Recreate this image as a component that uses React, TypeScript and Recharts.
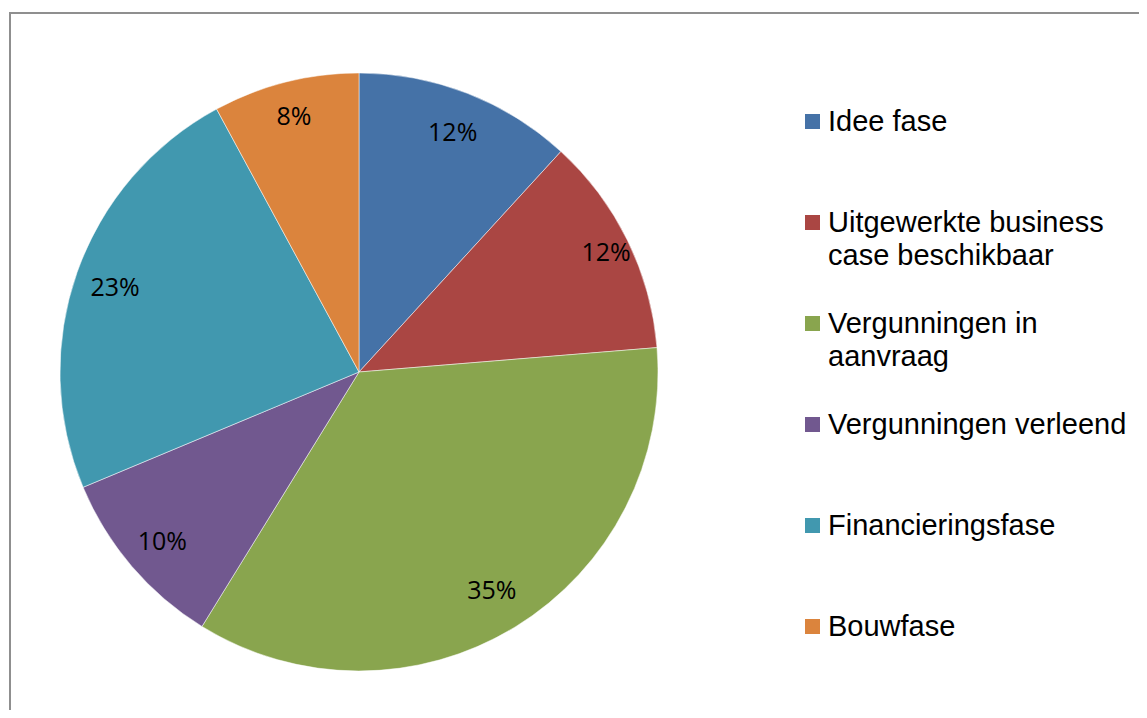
import { PieChart, Pie, Cell, Legend } from "recharts";

const categories = [
  "Idee fase",
  "Uitgewerkte business case beschikbaar",
  "Vergunningen in aanvraag",
  "Vergunningen verleend",
  "Financieringsfase",
  "Bouwfase",
];
const shares = [11.8, 11.9, 35.1, 9.9, 23.4, 7.9];
const colors = ["#4572A7", "#AA4643", "#89A54E", "#71588F", "#4198AF", "#DB843D"];
// label distance as a fraction of the radius (Excel "best fit" puts them unevenly)
const labelRadius = [0.865, 0.92, 0.85, 0.865, 0.865, 0.885];

const data = categories.map((name, i) => ({ name, value: shares[i] }));

const RADIAN = Math.PI / 180;

const renderLabel = (props: any) => {
  const { cx, cy, midAngle, outerRadius, percent, index } = props;
  const r = outerRadius * labelRadius[index];
  const x = cx + r * Math.cos(-midAngle * RADIAN);
  const y = cy + r * Math.sin(-midAngle * RADIAN);
  return (
    <text x={x} y={y} textAnchor="middle" dominantBaseline="central" fill="#000" fontSize={25} fontFamily="'Open Sans', sans-serif">
      {`${Math.round(percent * 100)}%`}
    </text>
  );
};

const renderLegend = () => (
  <div style={{ fontFamily: "'Liberation Sans', Arimo, Arial, sans-serif", fontSize: 29, lineHeight: "33px", color: "#000" }}>
    {categories.map((name, i) => (
      <div key={name} style={{ display: "flex", alignItems: "flex-start", height: 101 }}>
        <span style={{ width: 15, height: 15, background: colors[i], marginTop: 9, marginRight: 8, flexShrink: 0 }} />
        <span style={{ maxWidth: 318 }}>{name}</span>
      </div>
    ))}
  </div>
);

const App = () => {
  return (
    <div style={{ position: "relative", width: 1147, height: 718, margin: -8, overflow: "hidden", background: "#fff" }}>
      <div style={{ position: "absolute", left: 9, top: 12, width: 1200, height: 800, border: "2px solid #8f8f8f" }} />
      <div style={{ position: "absolute", left: 0, top: 0 }}>
        <PieChart width={1147} height={718} margin={{ top: 0, right: 0, bottom: 0, left: 0 }}>
          <Pie
            data={data}
            dataKey="value"
            nameKey="name"
            cx={359}
            cy={372}
            outerRadius={299}
            startAngle={90}
            endAngle={-270}
            stroke="#fff"
            strokeWidth={0.5}
            label={renderLabel}
            labelLine={false}
            isAnimationActive={false}
          >
            {data.map((d, i) => <Cell key={d.name} fill={colors[i]} />)}
          </Pie>
          <Legend
            layout="vertical"
            align="right"
            verticalAlign="top"
            content={renderLegend}
            wrapperStyle={{ left: 805, top: 105, width: 340 }}
          />
        </PieChart>
      </div>
    </div>
  );
};

export default App;
